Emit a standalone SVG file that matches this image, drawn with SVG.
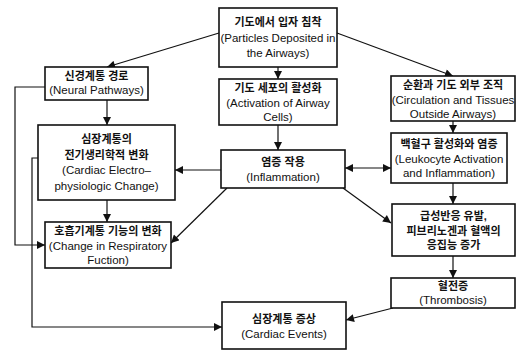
<svg xmlns="http://www.w3.org/2000/svg" width="517" height="352" viewBox="0 0 517 352">
<style>
.box{fill:#fff;stroke:#111;stroke-width:1.6}
.t{font-family:"Liberation Sans","Noto Sans CJK KR",sans-serif;font-size:11.5px;fill:#111;text-anchor:middle}
.k{font-weight:bold;font-size:11px}
.c{fill:none;stroke:#111;stroke-width:1.2}
</style>
<defs>
<marker id="a" viewBox="0 0 10 10" refX="10" refY="5" markerWidth="9" markerHeight="8" markerUnits="userSpaceOnUse" orient="auto-start-reverse">
<path d="M0,0 L10,5 L0,10 z" fill="#111"/>
</marker>
</defs>
<rect width="517" height="352" fill="#fff"/>
<g id="connectors">
<line class="c" x1="219" y1="33" x2="107" y2="67" marker-end="url(#a)"/>
<line class="c" x1="337" y1="33" x2="453" y2="76" marker-end="url(#a)"/>
<line class="c" x1="278" y1="67" x2="278" y2="79" marker-end="url(#a)"/>
<line class="c" x1="107" y1="100" x2="107" y2="125" marker-end="url(#a)"/>
<polyline class="c" points="45,87 15,87 15,245 45,245" marker-end="url(#a)"/>
<polyline class="c" points="38,158 32,158 32,327 222,327" marker-end="url(#a)"/>
<line class="c" x1="107" y1="200" x2="107" y2="222" marker-end="url(#a)"/>
<line class="c" x1="278" y1="125" x2="278" y2="150" marker-end="url(#a)"/>
<line class="c" x1="221" y1="170" x2="175" y2="170" marker-end="url(#a)"/>
<line class="c" x1="227" y1="188" x2="171" y2="243" marker-end="url(#a)"/>
<line class="c" x1="345" y1="168" x2="391" y2="168" marker-start="url(#a)" marker-end="url(#a)"/>
<line class="c" x1="343" y1="188" x2="391" y2="223" marker-end="url(#a)"/>
<line class="c" x1="453" y1="121" x2="453" y2="133" marker-end="url(#a)"/>
<line class="c" x1="453" y1="183" x2="453" y2="204" marker-end="url(#a)"/>
<line class="c" x1="453" y1="256" x2="453" y2="278" marker-end="url(#a)"/>
<line class="c" x1="393" y1="308" x2="346" y2="320" marker-end="url(#a)"/>
</g>
<g id="particles">
<rect class="box" x="219" y="8" width="118" height="59"/>
<text class="t k" x="278" y="26">기도에서 입자 침착</text>
<text class="t" x="278" y="41.5">(Particles Deposited in</text>
<text class="t" x="278" y="57">the Airways)</text>
</g>
<g id="neural">
<rect class="box" x="45" y="67" width="103" height="33"/>
<text class="t k" x="96.5" y="80">신경계통 경로</text>
<text class="t" x="96.5" y="94">(Neural Pathways)</text>
</g>
<g id="activation">
<rect class="box" x="219" y="79" width="118" height="46"/>
<text class="t k" x="278" y="92">기도 세포의 활성화</text>
<text class="t" x="278" y="106.5">(Activation of Airway</text>
<text class="t" x="278" y="121">Cells)</text>
</g>
<g id="circulation">
<rect class="box" x="391" y="76" width="124" height="45"/>
<text class="t k" x="453" y="89">순환과 기도 외부 조직</text>
<text class="t" x="453" y="103.5">(Circulation and Tissues</text>
<text class="t" x="453" y="118">Outside Airways)</text>
</g>
<g id="electro">
<rect class="box" x="38" y="125" width="137" height="75"/>
<text class="t k" x="106.5" y="143">심장계통의</text>
<text class="t k" x="106.5" y="158.5">전기생리학적 변화</text>
<text class="t" x="106.5" y="174">(Cardiac Electro–</text>
<text class="t" x="106.5" y="189.5">physiologic Change)</text>
</g>
<g id="inflammation">
<rect class="box" x="221" y="150" width="124" height="38"/>
<text class="t k" x="283" y="166">염증 작용</text>
<text class="t" x="283" y="180.5">(Inflammation)</text>
</g>
<g id="leukocyte">
<rect class="box" x="391" y="133" width="116" height="50"/>
<text class="t k" x="449" y="148">백혈구 활성화와 염증</text>
<text class="t" x="449" y="162.5">(Leukocyte Activation</text>
<text class="t" x="449" y="177">and Inflammation)</text>
</g>
<g id="respiratory">
<rect class="box" x="45" y="222" width="126" height="46"/>
<text class="t k" x="108" y="235">호흡기계통 기능의 변화</text>
<text class="t" x="108" y="249.5">(Change in Respiratory</text>
<text class="t" x="108" y="264">Fuction)</text>
</g>
<g id="acute">
<rect class="box" x="392" y="204" width="123" height="52"/>
<text class="t k" x="453.5" y="220">급성반응 유발,</text>
<text class="t k" x="453.5" y="234.5">피브리노겐과 혈액의</text>
<text class="t k" x="453.5" y="249">응집능 증가</text>
</g>
<g id="thrombosis">
<rect class="box" x="391" y="278" width="124" height="30"/>
<text class="t k" x="453" y="290">혈전증</text>
<text class="t" x="453" y="304">(Thrombosis)</text>
</g>
<g id="cardiac-events">
<rect class="box" x="222" y="302" width="124" height="47"/>
<text class="t k" x="284" y="323">심장계통 증상</text>
<text class="t" x="284" y="337.5">(Cardiac Events)</text>
</g>
</svg>
